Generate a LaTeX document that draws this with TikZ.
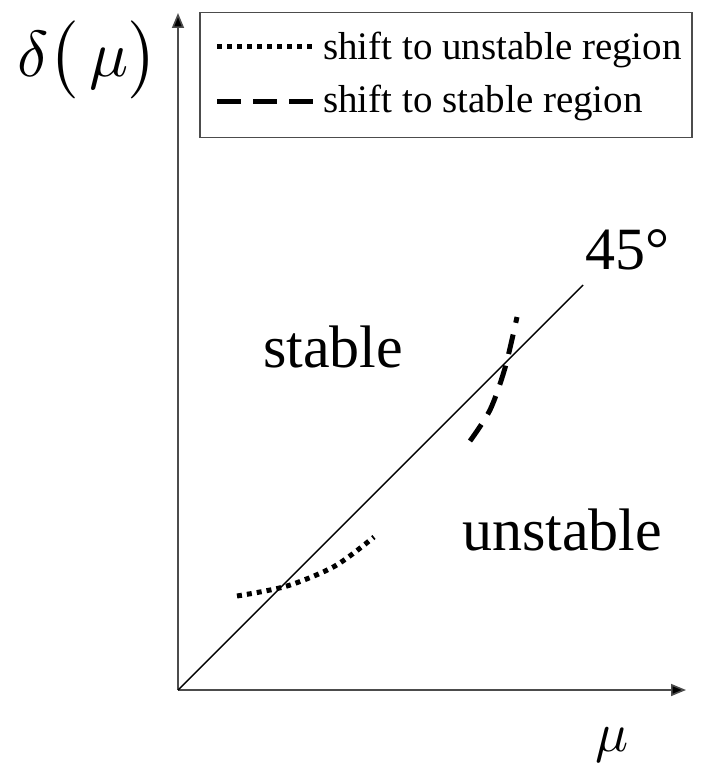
\documentclass[tikz,border=0pt]{standalone}
\usepackage{fontspec}
\usepackage{graphicx}
\setmainfont{Liberation Serif}
\usetikzlibrary{arrows.meta}
\begin{document}
\begin{tikzpicture}[x=1pt,y=-1pt,
  axis/.style={line width=1.6pt,draw=black!70,-{Triangle[length=15pt,width=12pt,fill=black]}},
  diag/.style={line width=1.4pt,black},
  dotcurve/.style={line width=5pt,dash pattern=on 5pt off 5pt},
  dashcurve/.style={line width=5pt,dash pattern=on 20pt off 12pt},
  legdash/.style={line width=5pt,dash pattern=on 24pt off 12pt},
  big/.style={font=\fontsize{60}{70}\selectfont,inner sep=0pt},
  legtxt/.style={font=\fontsize{39}{44}\selectfont,anchor=base west,inner sep=0pt}]
\useasboundingbox (0,0) rectangle (701,765);
% axes
\coordinate (O) at (178,690);
\coordinate (ytop) at (178,13);
\coordinate (xend) at (686,690);
\coordinate (dend) at (583,285);
\draw[axis] (O) -- (ytop);
\draw[axis] (O) -- (xend);
\draw[diag] (O) -- (dend);
% legend
\node[draw=black!70,line width=1.2pt,minimum width=492pt,minimum height=125pt,inner sep=0pt] (legend) at (446,75) {};
\coordinate (l1a) at (217,47);
\coordinate (l1b) at (316,47);
\coordinate (l2a) at (217,102);
\coordinate (l2b) at (316,102);
\draw[dotcurve] (l1a) -- (l1b);
\draw[legdash] (l2a) -- (l2b);
\node[legtxt] (t1) at (323,60) {shift to unstable region};
\node[legtxt] (t2) at (323,113) {shift to stable region};
% curves
\coordinate (d1) at (237,596);
\coordinate (d2) at (287,586);
\coordinate (d3) at (335,566);
\coordinate (d4) at (374,537);
\draw[dotcurve] plot[smooth] coordinates {(d1) (d2) (d3) (d4)};
\coordinate (s1) at (470,441);
\coordinate (s2) at (490,410);
\coordinate (s3) at (505,368);
\coordinate (s4) at (517,317);
\draw[dashcurve] plot[smooth] coordinates {(s1) (s2) (s3) (s4)};
% labels
\node[inner sep=0pt] (ylab) at (88,60) {\scalebox{6.5}{$\delta\bigl(\,\mu\bigr)$}};
\node[big] (stable) at (333,347) {stable};
\node[big] (unstable) at (562,530) {unstable};
\node[big,anchor=west] (deg) at (585,250) {45°};
\node[inner sep=0pt] (xlab) at (612,745) {\scalebox{5.5}{$\mu$}};
\end{tikzpicture}
\end{document}
